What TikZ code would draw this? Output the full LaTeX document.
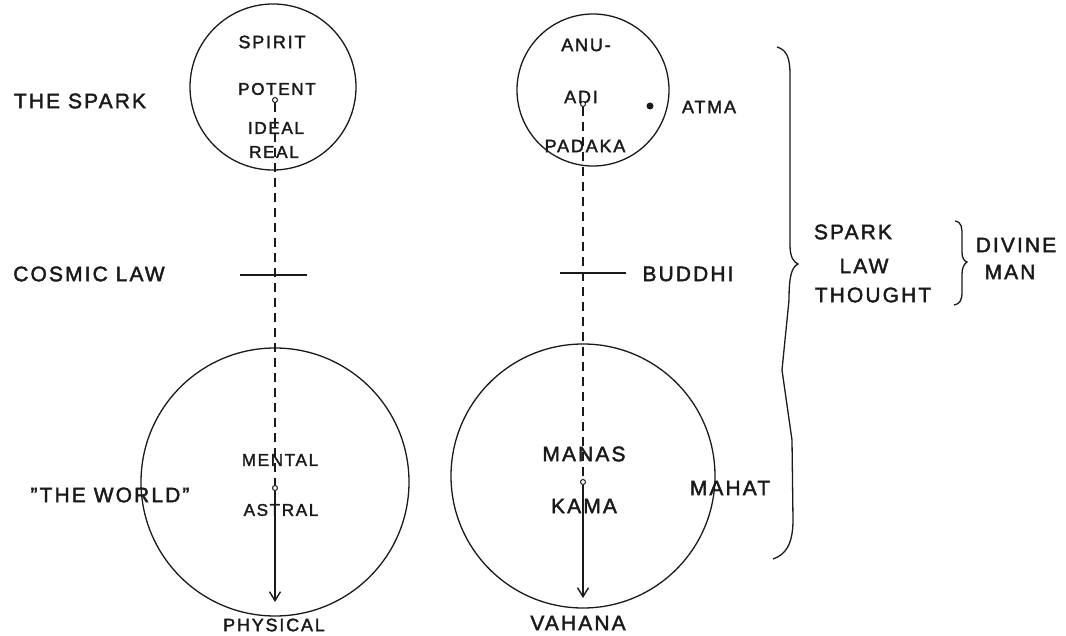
\documentclass[tikz,border=0pt]{standalone}
\usepackage{fontspec}
\setmainfont{Liberation Sans}[LetterSpace=10, FakeBold=2]
\usetikzlibrary{arrows.meta, positioning, calc}
\definecolor{inkline}{HTML}{1A1A1A}
\newcommand{\sphere}[4]{%
  \node[draw=inkline, line width=1.3pt, circle, minimum size=#4,
        inner sep=0pt] (#1) at (#2,#3) {};}
\begin{document}
\begin{tikzpicture}[x=1pt, y=-1pt, font=\fontsize{18}{20}\selectfont,
    tag/.style={inner sep=0pt, text=inkline},
    big/.style={tag, font=\fontsize{21}{24}\selectfont},
    note/.style={tag, font=\fontsize{17}{19}\selectfont},
    stop/.style={circle, draw=inkline, line width=1pt, minimum size=5pt,
                 inner sep=0pt, fill=white}]
      \useasboundingbox (0,0) rectangle (1066,636);
      % the four spheres
      \sphere{spirit}{273}{87}{166pt}
      \sphere{anu}{593}{90}{152pt}
      \sphere{world}{275}{482}{268pt}
      \sphere{mahat}{583}{476}{264pt}
      % left column
      \node[tag] (spiritl) at (272,42) {SPIRIT};
      \node[note] (potent) at (277,89) {POTENT};
      \node[note] (ideal) at (276,128) {IDEAL};
      \node[note] (real) at (274,152) {REAL};
      \node[note] (mental) at (280,460) {MENTAL};
      \node[note] (astral) at (281,510) {ASTRAL};
      \node[tag] (physical) at (274,625) {PHYSICAL};
      \node[stop] (p0) at (275,100) {};
      \node[stop] (p1) at (275,488) {};
      \coordinate (p2) at (275,602);
      % right column
      \node[tag] (anul) at (586,45) {ANU-};
      \node[tag] (adi) at (581,97) {ADI};
      \node[tag] (padaka) at (585,146) {PADAKA};
      \node[big] (manas) at (584,454) {MANAS};
      \node[big] (kama) at (584,506) {KAMA};
      \node[big] (vahana) at (578,623) {VAHANA};
      \node[stop] (q0) at (583,104) {};
      \node[stop] (q1) at (583,482) {};
      \coordinate (q2) at (583,598);
      \node[circle, fill=inkline, minimum size=7pt, inner sep=0pt] (atmadot) at (650,106) {};
      % side labels
      \node[big] (spark) at (80,101) {THE SPARK};
      \node[big] (cosmic) at (89,274) {COSMIC LAW};
      \node[big] (theworld) at (110,495) {"THE WORLD"};
      \node[tag] (atma) at (709,107) {ATMA};
      \node[big] (buddhi) at (688,274) {BUDDHI};
      \node[big] (mahatl) at (730,488) {MAHAT};
      \node[big] (spark2) at (853,232) {SPARK};
      \node[big] (law) at (864,266) {LAW};
      \node[big] (thought) at (873,295) {THOUGHT};
      \node[big] (divine) at (1016,245) {DIVINE};
      \node[big] (man) at (1010,272) {MAN};
      % lines of descent
      \draw[inkline, line width=1.4pt, dash pattern=on 9pt off 6pt] (p0) -- (p1);
      \draw[inkline, line width=1.4pt, -{Straight Barb[length=9pt, width=11pt]}] (p1) -- (p2);
      \draw[inkline, line width=1.4pt, dash pattern=on 9pt off 6pt] (q0) -- (q1);
      \draw[inkline, line width=1.4pt, -{Straight Barb[length=9pt, width=11pt]}] (q1) -- (q2);
      % crossings of the law
      \draw[inkline, line width=1.3pt] (240,275) -- (307,275);
      \draw[inkline, line width=1.3pt] (560,273) -- (626,273);
      % braces
      \draw[inkline, line width=1.3pt] (777,47) .. controls (787,50) and (790,58) .. (790,75)
        -- (790,245) .. controls (790,258) and (794,262) .. (798,264)
        .. controls (792,267) and (789,275) .. (789,300)
        -- (782,370) -- (792,440) -- (793,520)
        .. controls (793,545) and (785,555) .. (773,559);
      \draw[inkline, line width=1.3pt] (955,221) .. controls (962,222) and (962,228) .. (962,236)
        -- (962,252) .. controls (962,258) and (964,261) .. (967,262)
        .. controls (964,264) and (962,268) .. (962,274)
        -- (962,292) .. controls (962,300) and (960,304) .. (954,305);
    \end{tikzpicture}
\end{document}
